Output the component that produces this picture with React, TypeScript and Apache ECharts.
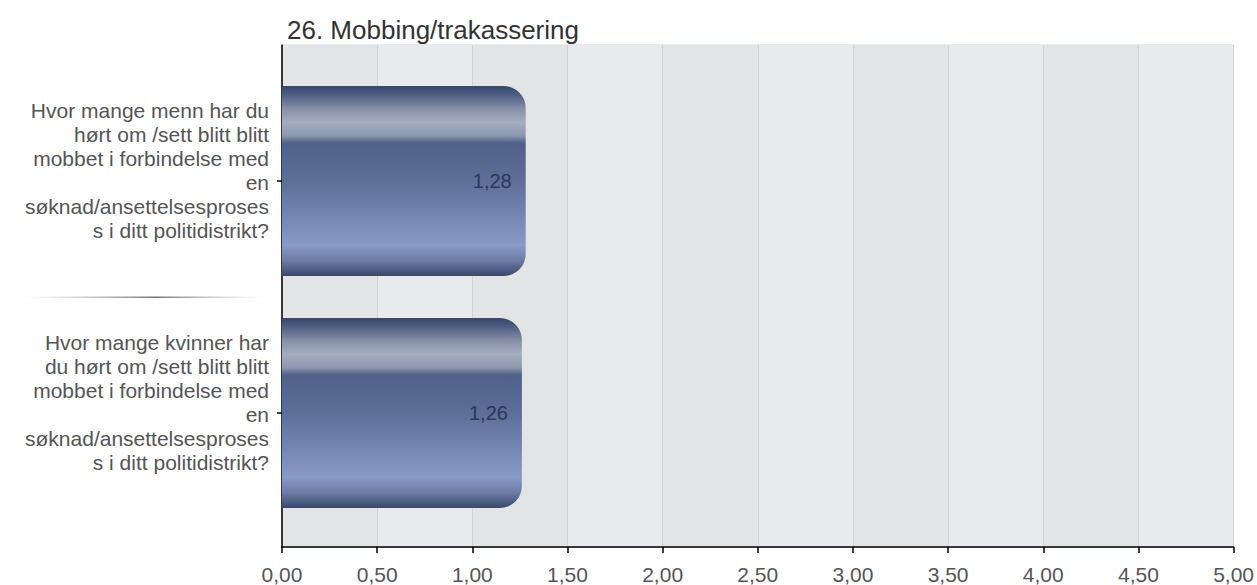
import React, { useEffect, useRef } from "react";
import * as echarts from "echarts";

const title = "26. Mobbing/trakassering";
const categories = [
  "Hvor mange menn har du\nhørt om /sett blitt blitt\nmobbet i forbindelse med\nen\nsøknad/ansettelsesproses\ns i ditt politidistrikt?",
  "Hvor mange kvinner har\ndu hørt om /sett blitt blitt\nmobbet i forbindelse med\nen\nsøknad/ansettelsesproses\ns i ditt politidistrikt?",
];
const values = [1.28, 1.26];
const xMin = 0;
const xMax = 5;
const xInterval = 0.5;

const FONT = "'Liberation Sans', Arial, Helvetica, sans-serif";
const fmt = (v: number) => v.toFixed(2).replace(".", ",");

export default function App() {
  const ref = useRef<HTMLDivElement>(null);
  useEffect(() => {
    if (!ref.current) return;
    const chart = echarts.init(ref.current, null, { renderer: "svg" });
    const barColor = new echarts.graphic.LinearGradient(0, 0, 0, 1, [
      { offset: 0, color: "#35466a" },
      { offset: 0.04, color: "#4a5a7e" },
      { offset: 0.12, color: "#8690a8" },
      { offset: 0.19, color: "#a4adbf" },
      { offset: 0.26, color: "#8e98af" },
      { offset: 0.3, color: "#4f6089" },
      { offset: 0.5, color: "#5d6e97" },
      { offset: 0.84, color: "#889ac6" },
      { offset: 0.92, color: "#6b7ba3" },
      { offset: 1, color: "#38476a" },
    ]);
    chart.setOption({
      animation: false,
      title: {
        text: title,
        left: 282,
        top: 12,
        textStyle: { fontFamily: FONT, fontSize: 26, fontWeight: "normal", color: "#333" },
      },
      grid: [
        {
          left: 282,
          right: 23,
          top: 45,
          bottom: 37,
          show: true,
          backgroundColor: "#e6e8eb",
          borderColor: "#cfd2d6",
          borderWidth: 1,
        },
        { left: 282, right: 23, top: 65, height: 464 },
        { left: 282, right: 23, top: 54, height: 464 },
      ],
      xAxis: [
        {
          gridIndex: 0,
          type: "value",
          min: xMin,
          max: xMax,
          interval: xInterval,
          axisLine: { show: true, lineStyle: { color: "#000", width: 1.5 } },
          axisTick: { show: true, length: 6, lineStyle: { color: "#000", width: 1.5 } },
          axisLabel: {
            formatter: (v: number) => fmt(v),
            fontFamily: FONT,
            fontSize: 21,
            color: "#555",
            margin: 17,
          },
          splitLine: { show: true, lineStyle: { color: "#cfd2d6" } },
          splitArea: { show: true, areaStyle: { color: ["#e3e4e6", "#e8eaed"] } },
        },
        { gridIndex: 1, type: "value", min: xMin, max: xMax, show: false },
        { gridIndex: 2, type: "value", min: xMin, max: xMax, show: false },
      ],
      yAxis: [
        {
          gridIndex: 0,
          type: "value",
          min: 0,
          max: 1,
          axisLine: { show: true, lineStyle: { color: "#000", width: 1.5 } },
          axisTick: { show: false },
          axisLabel: { show: false },
          splitLine: { show: false },
        },
        {
          gridIndex: 1,
          type: "category",
          data: categories,
          inverse: true,
          axisLine: { show: false },
          axisTick: { show: true, alignWithLabel: true, length: 5, lineStyle: { color: "#000", width: 1.5 } },
          axisLabel: { show: false },
          splitLine: { show: false },
        },
        {
          gridIndex: 2,
          type: "category",
          data: categories,
          inverse: true,
          axisLine: { show: false },
          axisTick: { show: false },
          axisLabel: {
            fontFamily: FONT,
            fontSize: 21,
            lineHeight: 24,
            color: "#555",
            align: "right",
            margin: 13,
          },
          splitLine: { show: false },
        },
      ],
      graphic: [
        {
          type: "rect",
          shape: { x: 20, y: 296.5, width: 246, height: 1.5 },
          style: {
            fill: new echarts.graphic.LinearGradient(0, 0, 1, 0, [
              { offset: 0, color: "rgba(180,180,180,0)" },
              { offset: 0.55, color: "rgba(100,100,100,0.9)" },
              { offset: 1, color: "rgba(180,180,180,0)" },
            ]),
          },
        },
      ],
      series: [
        {
          type: "bar",
          xAxisIndex: 1,
          yAxisIndex: 1,
          data: values,
          barWidth: 190,
          itemStyle: { color: barColor, borderRadius: [0, 22, 22, 0] },
          label: {
            show: true,
            position: "insideRight",
            distance: 14,
            formatter: (p: any) => fmt(p.value),
            fontFamily: FONT,
            fontSize: 20,
            color: "#2b3856",
          },
        },
      ],
    });
    return () => chart.dispose();
  }, []);
  return (
    <div
      ref={ref}
      style={{ position: "fixed", left: 0, top: 0, width: 1257, height: 585, background: "#fff" }}
    />
  );
}
